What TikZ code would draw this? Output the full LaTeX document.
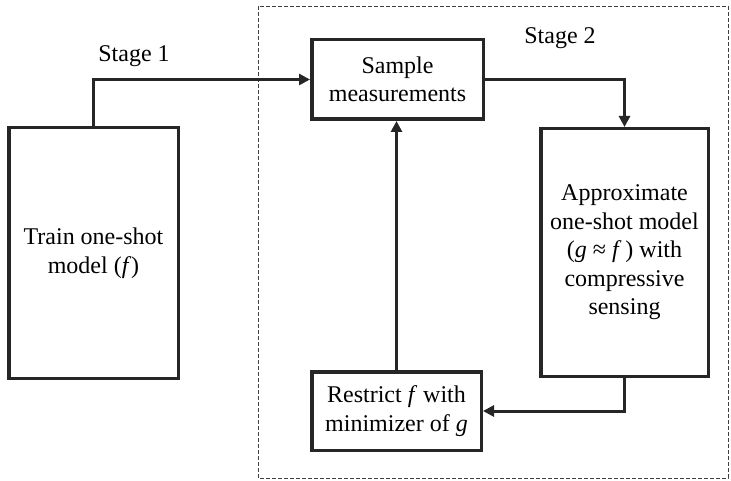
\documentclass[tikz,border=0pt]{standalone}
\usepackage{fontspec}
\setmainfont{Liberation Serif}
\usetikzlibrary{arrows.meta}

\begin{document}
\begin{tikzpicture}[x=1pt,y=-1pt,
  block/.style={draw=black!85, line width=3.5pt, fill=white, align=center,
    inner sep=0pt, font=\fontsize{24}{28.5}\selectfont},
  flow/.style={draw=black!85, line width=3pt,
    -{Triangle[length=11pt,width=11pt]}},
  label/.style={font=\fontsize{24}{28.5}\selectfont, anchor=base},
  dashbox/.style={draw=black!75, line width=0.9pt, dash pattern=on 4pt off 2pt}
]
\useasboundingbox (0,0) rectangle (731,481);

% second stage region
\draw[dashbox] (258,6) rectangle (728,478);

% blocks
\node[block, minimum width=169.5pt, minimum height=250.5pt] (train) at (93.5,253)
  {Train one-shot\\model (\textit{f})};
\node[block, minimum width=171.5pt, minimum height=79.5pt] (sample) at (397.5,79.5)
  {Sample\\measurements};
\node[block, minimum width=167.5pt, minimum height=247.5pt] (approx) at (624.5,252.5)
  {Approximate\\one-shot model\\(\textit{g} ≈ \textit{f}\,) with\\compressive\\sensing};
\node[block, minimum width=169.5pt, minimum height=78.5pt] (restrict) at (396.5,411)
  {Restrict \textit{f} with\\minimizer of \textit{g}};

% stage labels
\node[label] (s1) at (134,62) {Stage 1};
\node[label] (s2) at (560,44) {Stage 2};

% connectors
\draw[flow] (train.north) |- (sample.west);
\draw[flow] (sample.east) -| (approx.north);
\draw[flow] (approx.south) |- (restrict.east);
\draw[flow] (restrict.north) -- (restrict.north |- sample.south);
\end{tikzpicture}
\end{document}
